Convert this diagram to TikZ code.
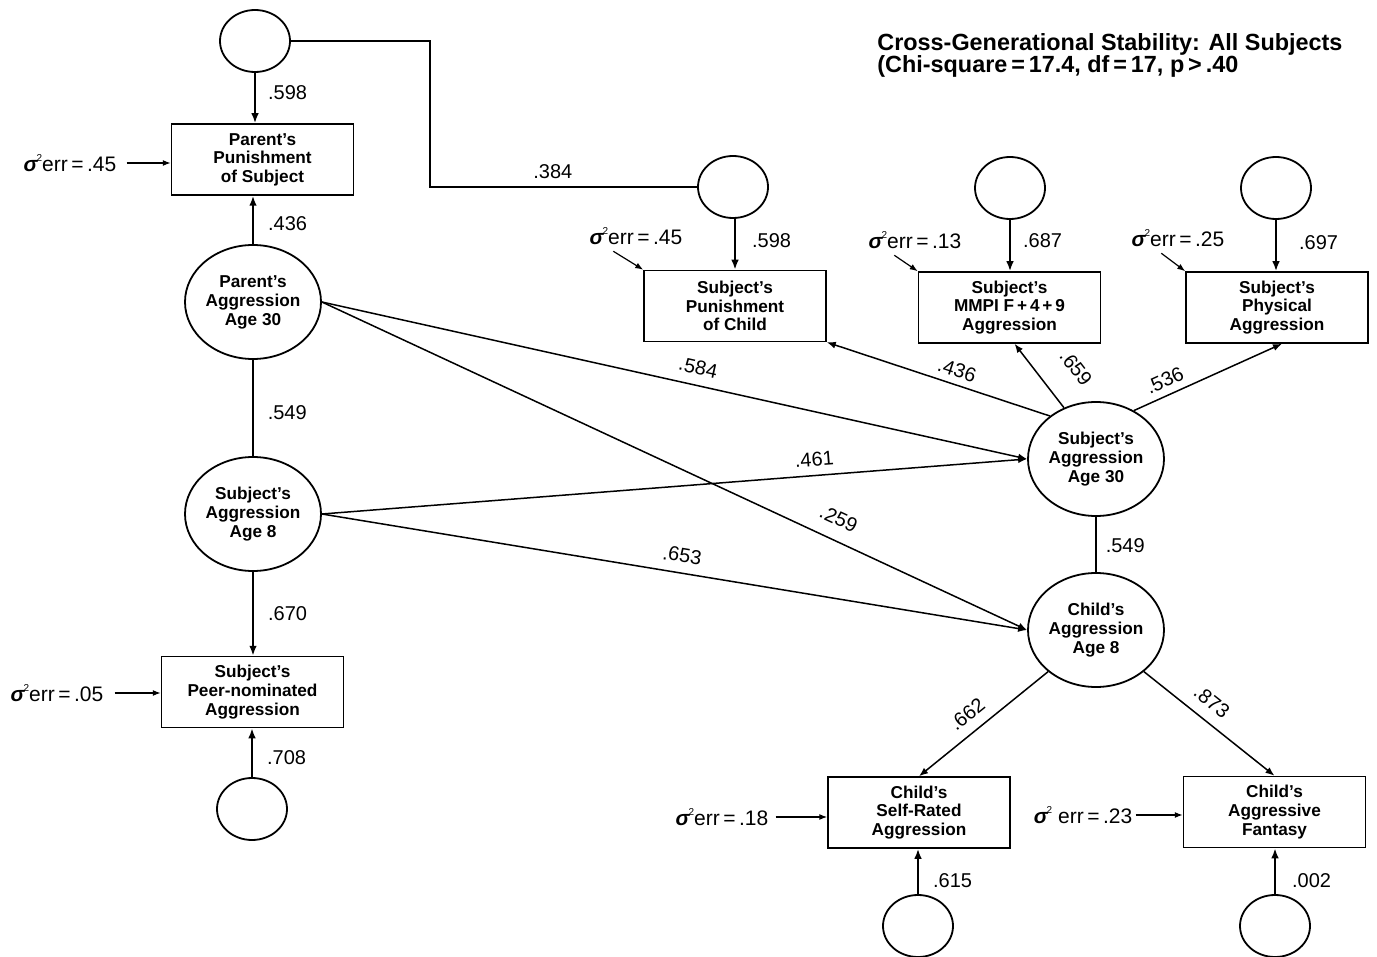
\documentclass[tikz,border=0pt]{standalone}
\usepackage{fontspec}
\setmainfont{Liberation Sans}
\usetikzlibrary{shapes.geometric,arrows.meta,calc}
\newcommand\sigsq{{\bfseries\itshape σ}\kern-0.5pt\raisebox{0.95ex}{\fontsize{5}{5}\selectfont 2}}
\begin{document}
\begin{tikzpicture}[x=0.5pt,y=-0.5pt,
  lat/.style={draw, ellipse, line width=0.9pt, minimum width=68pt, minimum height=57pt, inner sep=0pt, align=center, font=\bfseries\fontsize{8.6}{9.5}\selectfont},
  errc/.style={draw, ellipse, line width=0.9pt, minimum width=35pt, minimum height=31pt, inner sep=0pt},
  obs/.style={draw, rectangle, line width=0.75pt, minimum width=91pt, minimum height=35.5pt, inner sep=0pt, align=center, font=\bfseries\fontsize{8.6}{9.3}\selectfont},
  coef/.style={font=\fontsize{10}{12}\selectfont, inner sep=1pt},
  errlab/.style={font=\fontsize{10.5}{12}\selectfont, inner sep=0pt},
  lnk/.style={line width=0.75pt},
  arr/.style={lnk, -{Latex[length=4.5pt,width=3.5pt]}},
  load/.style={line width=1.1pt, -{Latex[length=5pt,width=3.8pt]}},
  earr/.style={line width=0.6pt, -{Latex[length=4pt,width=3pt]}}]
\useasboundingbox (0,0) rectangle (1377,957);
\fill[white] (0,0) rectangle (1377,957);

% title
\node[font=\bfseries\fontsize{11.7}{11}\selectfont, align=left, anchor=north west, inner sep=0pt] (title) at (877,33)
  {Cross-Generational Stability: All Subjects\\(Chi-square\,=\,17.4, df\,=\,17, p\,>\,.40};

% nodes
\node[errc] (c1) at (255,41) {};
\node[obs] (PPS) at (262.5,159.5) {Parent's\\Punishment\\of Subject};
\node[lat] (PA) at (253,302) {Parent's\\Aggression\\Age 30};
\node[lat] (SA8) at (253,514) {Subject's\\Aggression\\Age 8};
\node[obs] (PN) at (252.5,692) {Subject's\\Peer-nominated\\Aggression};
\node[errc] (c5) at (252,809) {};
\node[errc] (c2) at (733,187) {};
\node[obs] (SPC) at (735,306) {Subject's\\Punishment\\of Child};
\node[errc] (c3) at (1010,188) {};
\node[obs] (MM) at (1009.5,307.5) {Subject's\\MMPI F\,+\,4\,+\,9\\Aggression};
\node[errc] (c4) at (1276,188) {};
\node[obs] (PH) at (1277,307.5) {Subject's\\Physical\\Aggression};
\node[lat] (SA30) at (1096,459) {Subject's\\Aggression\\Age 30};
\node[lat] (CH) at (1096,630) {Child's\\Aggression\\Age 8};
\node[obs] (SR) at (919,812.5) {Child's\\Self-Rated\\Aggression};
\node[obs] (FA) at (1274.5,812) {Child's\\Aggressive\\Fantasy};
\node[errc] (c6) at (918,926) {};
\node[errc] (c7) at (1275,926) {};
\coordinate (k1) at (430,187);

% error labels
\node[errlab] (e1) at (70,163) {\sigsq err\,=\,.45};
\node[errlab] (e2) at (636,236) {\sigsq err\,=\,.45};
\node[errlab] (e3) at (915,240) {\sigsq err\,=\,.13};
\node[errlab] (e4) at (1178,238) {\sigsq err\,=\,.25};
\node[errlab] (e5) at (57,693) {\sigsq err\,=\,.05};
\node[errlab] (e6) at (722,817) {\sigsq err\,=\,.18};
\node[errlab] (e7) at (1083,815) {\sigsq\ err\,=\,.23};

% correlation between the two punishment factors
\draw[lnk] (c1.east) -| (k1) -- node[coef,pos=0.46,above=3pt]{.384} (c2.west);

% vertical loadings
\draw[load] (c1.south) -- node[coef,pos=0.4,right=5pt]{.598} (c1.south |- PPS.north);
\draw[load] (PA.north) -- node[coef,pos=0.42,right=6pt]{.436} (PA.north |- PPS.south);
\draw[lnk] (PA.south) -- node[coef,pos=0.55,right=6pt]{.549} (SA8.north);
\draw[load] (SA8.south) -- node[coef,pos=0.5,right=6pt]{.670} (SA8.south |- PN.north);
\draw[load] (c5.north) -- node[coef,pos=0.4,right=6pt]{.708} (c5.north |- PN.south);
\draw[load] (c2.south -| SPC.north) -- node[coef,pos=0.42,right=7pt]{.598} (SPC.north);
\draw[load] (c3.south) -- node[coef,pos=0.4,right=5pt]{.687} (c3.south |- MM.north);
\draw[load] (c4.south) -- node[coef,pos=0.45,right=10pt]{.697} (c4.south |- PH.north);
\draw[lnk] (SA30.south) -- node[coef,pos=0.52,right=3.5pt]{.549} (CH.north);
\draw[load] (c6.north) -- node[coef,pos=0.3,right=6pt]{.615} (c6.north |- SR.south);
\draw[load] (c7.north) -- node[coef,pos=0.3,right=7pt]{.002} (c7.north |- FA.south);

% cross paths
\draw[arr] (PA.east) -- node[coef,sloped,pos=0.528,above=4pt]{.584} (SA30.west);
\draw[arr] (PA.east) -- node[coef,sloped,pos=0.72,above=5.8pt]{.259} (CH.west);
\draw[arr] (SA8.east) -- node[coef,sloped,pos=0.70,above=3.2pt]{.461} (SA30.west);
\draw[arr] (SA8.east) -- node[coef,sloped,pos=0.507,above=3.9pt]{.653} (CH.west);

% indicators of Subject's aggression age 30
\draw[arr] (SA30.137) -- node[coef,sloped,pos=0.436,above=2.2pt]{.436} (SPC.south east);
\draw[arr] (SA30.122) -- node[coef,sloped,pos=0.3,above=12pt]{.659} ($(MM.south)+(5,0)$);
\draw[arr] (SA30.52) -- node[coef,sloped,pos=0.25,above=2.5pt]{.536} ($(PH.south)+(5,0)$);

% indicators of child's aggression
\draw[arr] (CH.221) -- node[coef,sloped,pos=0.54,above=4pt]{.662} (SR.north);
\draw[arr] (CH.-41) -- node[coef,sloped,pos=0.43,above=4.5pt]{.873} (FA.north);

% error arrows
\draw[earr] ([xshift=5pt]e1.east) -- (e1.east -| PPS.west);
\draw[earr] ([xshift=5.5pt]e5.east) -- (e5.east -| PN.west);
\draw[earr] ([xshift=3.5pt]e6.east) -- (e6.east -| SR.west);
\draw[earr] ([xshift=1.5pt]e7.east) -- (e7.east -| FA.west);
\draw[earr] ($(e2.south west)+(24,6)$) -- (SPC.north west);
\draw[earr] ($(e3.south west)+(26,6)$) -- (MM.north west);
\draw[earr] ($(e4.south west)+(30,6)$) -- (PH.north west);
\end{tikzpicture}
\end{document}
